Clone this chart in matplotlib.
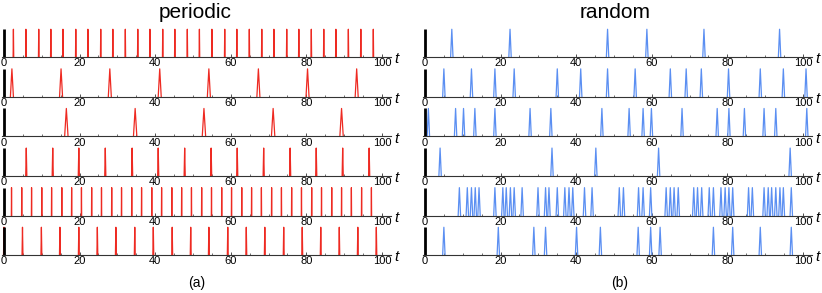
import matplotlib.pyplot as plt
from matplotlib.ticker import MultipleLocator

# ------------------------------------------------------------------ #
#   Spike times (t in [0, 100])
# ------------------------------------------------------------------ #
periodic_1 = [2.5, 5.8, 9.2, 12.4, 15.6, 19.0, 22.2, 25.6, 28.8, 32.1,
              35.4, 38.6, 42.0, 45.2, 48.5, 51.7, 55.0, 58.4, 61.6, 64.9,
              68.2, 71.4, 74.8, 78.0, 81.3, 84.6, 87.8, 91.1, 94.4, 97.7]
periodic_2 = [2.1, 15.1, 28.0, 41.2, 54.2, 67.3, 80.3, 93.3]
periodic_3 = [16.5, 34.7, 52.9, 71.2, 89.3]
periodic_4 = [5.9, 12.9, 19.8, 26.8, 33.9, 40.8, 47.8,
              54.8, 61.7, 68.7, 75.7, 82.6, 89.6, 96.6]
periodic_5 = [2.0, 4.7, 7.3, 10.0, 12.6, 15.3, 17.9, 20.5, 23.2, 25.8,
              28.5, 31.1, 33.8, 36.4, 39.1, 41.7, 44.4, 47.0, 49.6, 52.3,
              54.9, 57.6, 60.2, 62.9, 65.5, 68.1, 70.8, 73.4, 76.1, 78.7,
              81.4, 84.0, 86.7, 89.3, 91.9, 94.6, 97.2]
periodic_6 = [0.0, 4.9, 9.9, 14.8, 19.8, 24.7, 29.6, 34.6, 39.5, 44.5, 49.4,
              54.2, 59.2, 64.1, 69.0, 74.0, 78.9, 83.8, 88.7, 93.6, 98.5]

random_1 = [7.1, 22.5, 48.3, 58.7, 73.8, 93.8]
random_2 = [5.0, 12.3, 18.5, 23.6, 35.0, 41.2, 48.3, 55.6, 64.9, 69.1,
            73.1, 80.3, 88.7, 94.8, 100.8]
random_3 = [0.9, 8.1, 10.2, 13.2, 18.5, 27.8, 33.3, 46.8, 54.0, 57.7,
            59.9, 68.0, 77.3, 80.4, 84.5, 89.7, 92.8, 101.0]
random_4 = [4.0, 33.6, 45.2, 61.8, 96.6]
random_5 = [9.1, 11.2, 12.3, 13.3, 14.3, 18.5, 20.6, 21.5, 22.6, 23.6,
            25.7, 29.9, 31.9, 32.8, 35.0, 37.0, 38.1, 39.1, 42.2, 44.2,
            51.4, 52.5, 56.5, 57.7, 59.7, 63.8, 64.9, 65.9, 67.0, 71.1,
            72.1, 73.2, 75.2, 76.3, 78.3, 79.4, 80.4, 81.4, 85.6, 86.6,
            89.7, 90.8, 91.7, 92.8, 93.9, 94.8, 96.9]
random_6 = [5.0, 19.4, 28.8, 31.9, 40.1, 46.4, 56.4, 59.7, 62.2, 76.3,
            81.4, 88.7, 96.9]

periodic_rows = [periodic_1, periodic_2, periodic_3, periodic_4, periodic_5, periodic_6]
random_rows = [random_1, random_2, random_3, random_4, random_5, random_6]

# half-width of each spike (in t units)
periodic_hw = [0.08, 0.4, 0.45, 0.15, 0.05, 0.12]
random_hw = [0.32] * 6

RED = "#ee2a22"
BLUE = "#5b8ff2"
AXIS = "#333333"

W, H = 822, 293
X_LEFT_PX = [1.7, 422.7]
AX_W_PX = 389.0
ROW0_PX = 57.3
ROW_STEP_PX = 39.6
AX_H_PX = 30.0

plt.rcParams["font.family"] = ["Liberation Sans", "DejaVu Sans"]


def draw_train(ax, times, hw, color):
    ax.plot([0, 0], [0, 1.0], color="black", lw=2.0, solid_capstyle="butt", zorder=3)
    for t in times:
        ax.plot([t - hw, t, t + hw], [0, 1.0, 0], color=color, lw=0.9, zorder=2)
    ax.set_xlim(-0.6, 102.3)
    ax.set_ylim(0, 1.07)
    for side in ("top", "left", "right"):
        ax.spines[side].set_visible(False)
    ax.spines["bottom"].set_color(AXIS)
    ax.spines["bottom"].set_linewidth(0.8)
    ax.set_yticks([])
    ax.xaxis.set_major_locator(MultipleLocator(20))
    ax.xaxis.set_minor_locator(MultipleLocator(5))
    ax.tick_params(axis="x", which="major", direction="in", length=2.5, width=0.6,
                   color=AXIS, labelsize=8, pad=0.8)
    ax.tick_params(axis="x", which="minor", direction="in", length=1.5, width=0.5,
                   color=AXIS)
    ax.annotate("t", xy=(1, 0), xycoords="axes fraction", xytext=(2.5, -1.5),
                textcoords="offset points", ha="left", va="center",
                style="italic", fontsize=11)
    ax.patch.set_alpha(0)


fig = plt.figure(figsize=(W / 100, H / 100), dpi=100)

for col, (rows, hws, color) in enumerate([(periodic_rows, periodic_hw, RED),
                                          (random_rows, random_hw, BLUE)]):
    for i, (times, hw) in enumerate(zip(rows, hws)):
        y_px = ROW0_PX + ROW_STEP_PX * i
        ax = fig.add_axes([X_LEFT_PX[col] / W, 1 - y_px / H, AX_W_PX / W, AX_H_PX / H])
        draw_train(ax, times, hw, color)

fig.text(195 / W, 1 - 12 / H, "periodic", ha="center", va="center", fontsize=15)
fig.text(615 / W, 1 - 12 / H, "random", ha="center", va="center", fontsize=15)
fig.text(197 / W, 1 - 283 / H, "(a)", ha="center", va="center", fontsize=10)
fig.text(620 / W, 1 - 283 / H, "(b)", ha="center", va="center", fontsize=10)

fig.savefig("out.png", dpi=100)
